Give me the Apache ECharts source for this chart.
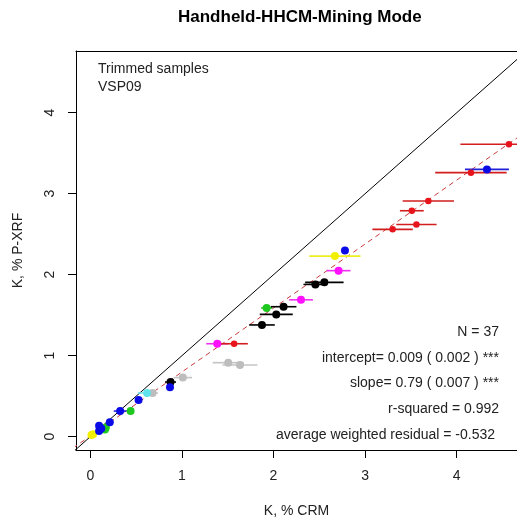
<!DOCTYPE html>
<html><head><meta charset="utf-8">
<script src="https://cdn.jsdelivr.net/npm/echarts@6/dist/echarts.min.js"></script>
<style>html,body{margin:0;padding:0;background:#fff}#c{width:517px;height:523px}</style>
</head><body><div id="c"></div>
<script>
// ---- data ----
const crmK   = [4.57, 4.33, 4.155, 3.69, 3.51, 3.56, 3.30, 2.78, 2.67, 2.71, 2.555, 2.457, 2.30, 1.925, 2.11, 2.03, 1.874, 1.386, 1.57, 1.506, 1.634, 1.01, 0.876, 0.87, 0.62, 0.68, 0.527, 0.326, 0.44, 0.213, 0.096, 0.096, 0.16, 0.17, 0.013, 0.03, 0.12];
const pxrfK  = [3.61, 3.30, 3.26, 2.91, 2.79, 2.62, 2.56, 2.30, 2.23, 2.05, 1.906, 1.88, 1.69, 1.59, 1.605, 1.51, 1.38, 1.148, 1.148, 0.914, 0.885, 0.73, 0.675, 0.61, 0.54, 0.54, 0.453, 0.317, 0.317, 0.18, 0.136, 0.07, 0.09, 0.115, 0.02, 0.03, 0.10];
const crmErr = [0.53, 0.24, 0.39, 0.28, 0.13, 0.22, 0.22, 0.02, 0.28, 0.13, 0.21, 0.13, 0.13, 0.06, 0.14, 0.18, 0.14, 0.12, 0.15, 0.17, 0.19, 0.10, 0.06, 0.02, 0.10, 0.06, 0.02, 0.07, 0.03, 0.03, 0.02, 0.02, 0.02, 0.02, 0.01, 0.01, 0.02];
const sampleGroup = ['red','blue','red','red','red','red','red','blue','yellow','magenta','black','black','magenta','green','black','black','black','magenta','red','gray','gray','gray','black','blue','cyan','gray','blue','blue','green','blue','blue','blue','green','green','yellow','yellow','blue'];
const groupNames = ['gray','cyan','black','green','magenta','yellow','blue','red'];
const xTicks = [0, 1, 2, 3, 4];
const yTicks = [0, 1, 2, 3, 4];
const fitIntercept = 0.009;
const fitSlope = 0.79;
const statsLines = ['N = 37', 'intercept= 0.009 ( 0.002 ) ***', 'slope= 0.79 ( 0.007 ) ***', 'r-squared = 0.992', 'average weighted residual = -0.532'];

// ---- styles ----
const groupColor = {red:'#e8141b', blue:'#0a0ae6', yellow:'#f2f000', magenta:'#ff10ff', black:'#000000', green:'#1ec81e', gray:'#bdbdbd', cyan:'#5fe3ea'};
const barColor = {red:'#d21e1e', blue:'#2020d8', yellow:'#eeee20', magenta:'#f030f0', black:'#000000', green:'#20c020', gray:'#c4c4c4', cyan:'#70e0e8'};
const FONT = 'Liberation Sans, Arial, sans-serif';
const X_MIN = -0.156, X_MAX = 4.658, Y_MIN = -0.164, Y_MAX = 4.762;

const chart = echarts.init(document.getElementById('c'), null, {renderer:'canvas'});

const pts = crmK.map((x,i)=>[x, pxrfK[i], crmErr[i], i]);

const series = [];
// 1:1 line
series.push({type:'line', data:[[X_MIN-1, X_MIN-1],[X_MAX+1, X_MAX+1]], showSymbol:false, silent:true, clip:true,
  lineStyle:{color:'#000', width:1}, z:1});
// regression line
series.push({type:'line', data:[[X_MIN-1, fitIntercept+fitSlope*(X_MIN-1)],[X_MAX+1, fitIntercept+fitSlope*(X_MAX+1)]], showSymbol:false, silent:true, clip:true,
  lineStyle:{color:'#c83a3a', width:1, type:[5,4]}, z:1});
// error bars
series.push({type:'custom', data:pts, clip:true, z:2,
  renderItem:function(params, api){
    const x = api.value(0), y = api.value(1), e = api.value(2), idx = api.value(3);
    const p1 = api.coord([x-e, y]), p2 = api.coord([x+e, y]);
    return {type:'line', shape:{x1:p1[0], y1:p1[1], x2:p2[0], y2:p2[1]},
      style:{stroke: barColor[sampleGroup[idx]], lineWidth:1.6}};
  }});
// points per group
groupNames.forEach(g=>{
  series.push({type:'scatter', name:g, z:3,
    data: pts.filter(p=>sampleGroup[p[3]]===g).map(p=>[p[0],p[1]]),
    symbol:'circle', symbolSize: g==='red'?6.5:8,
    itemStyle:{color:groupColor[g], opacity:1}});
});

const statsRight = 18;
const statsTop = [325, 351, 376, 402, 428];
const graphics = [
  {type:'text', left:'center', top:9, style:{text:'Handheld-HHCM-Mining Mode', font:'bold 17px '+FONT, fill:'#000'}, left:178},
  {type:'text', left:98, top:62, style:{text:'Trimmed samples', font:'14px '+FONT, fill:'#222'}},
  {type:'text', left:98, top:80, style:{text:'VSP09', font:'14px '+FONT, fill:'#222'}}
];
statsLines.forEach((t,i)=>{
  graphics.push({type:'text', right: i===4 ? 22 : statsRight, top: statsTop[i], style:{text:t, font:'14px '+FONT, fill:'#222'}});
});

chart.setOption({
  animation:false,
  backgroundColor:'#fff',
  grid:{left:76, top:51, right:0, bottom:73},
  xAxis:[{type:'value', min:X_MIN, max:X_MAX, position:'bottom',
    name:'K, % CRM', nameLocation:'middle', nameGap:54, nameTextStyle:{fontSize:14, fontFamily:FONT, color:'#222'},
    axisLine:{show:true, onZero:false, lineStyle:{color:'#000', width:1}},
    axisTick:{show:true, inside:false, length:8, customValues:xTicks, lineStyle:{color:'#000'}},
    axisLabel:{show:true, customValues:xTicks, margin:19, fontSize:14, fontFamily:FONT, color:'#222'},
    splitLine:{show:false}},
   {type:'value', min:X_MIN, max:X_MAX, position:'top',
    axisLine:{show:true, onZero:false, lineStyle:{color:'#000', width:1}},
    axisTick:{show:false}, axisLabel:{show:false}, splitLine:{show:false}}],
  yAxis:{type:'value', min:Y_MIN, max:Y_MAX,
    name:'K, % P-XRF', nameLocation:'middle', nameGap:51, nameRotate:90, nameTextStyle:{fontSize:14, fontFamily:FONT, color:'#222'},
    axisLine:{show:true, onZero:false, lineStyle:{color:'#000', width:1}},
    axisTick:{show:true, inside:false, length:8, customValues:yTicks, lineStyle:{color:'#000'}},
    axisLabel:{show:true, customValues:yTicks, rotate:90, margin:19, fontSize:14, fontFamily:FONT, color:'#222'},
    splitLine:{show:false}},
  graphic:graphics,
  series:series
});
</script></body></html>
